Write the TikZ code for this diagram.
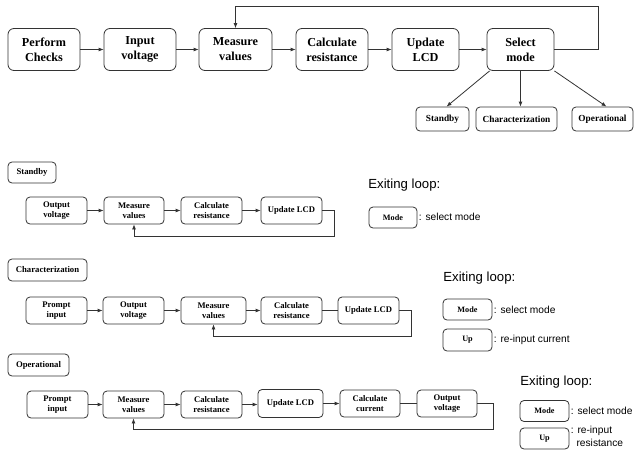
\documentclass[tikz,border=0pt]{standalone}
\usepackage{fontspec}
\setmainfont{Liberation Serif}
\newfontfamily\arialf{Liberation Sans}
\usetikzlibrary{arrows.meta}
\begin{document}
\begin{tikzpicture}[x=1pt,y=-1pt,
  line width=0.8pt,
  ln/.style={draw=black!80},
  arr/.style={draw=black!80,-{Latex[length=5pt,width=4pt]}},
  bigbox/.style={draw=black!80,rounded corners=6pt,align=center,inner sep=1pt,
    minimum height=42pt,font=\fontsize{12.2}{15}\selectfont\bfseries},
  subbox/.style={draw=black!80,rounded corners=4pt,align=center,inner sep=1pt,
    minimum height=24pt,font=\fontsize{9.3}{11}\selectfont\bfseries},
  smbox/.style={draw=black!80,rounded corners=4pt,align=center,inner sep=1pt,
    minimum height=27pt,font=\fontsize{8.6}{10.5}\selectfont\bfseries},
  labbox/.style={draw=black!80,rounded corners=4pt,align=center,inner sep=1pt,
    minimum height=21pt,font=\fontsize{8.7}{10.5}\selectfont\bfseries},
  keybox/.style={draw=black!80,rounded corners=4pt,align=center,inner sep=1pt,
    minimum width=49pt,minimum height=21pt,font=\fontsize{8.2}{10}\selectfont\bfseries},
  exittxt/.style={anchor=west,inner sep=0pt,font=\arialf\fontsize{13.2}{15}\selectfont},
  keytxt/.style={anchor=west,inner sep=0pt,align=left,font=\arialf\fontsize{10.2}{12.5}\selectfont}
]
\useasboundingbox (0,0) rectangle (634,458);

% ---------- top row ----------
\node[bigbox,minimum width=72pt] (pc) at (44,49.5) {Perform\\Checks};
\node[bigbox,minimum width=72pt] (iv) at (140,49.5) {Input\\voltage};
\node[bigbox,minimum width=73pt] (mv) at (235.5,49.5) {Measure\\values};
\node[bigbox,minimum width=72pt] (cr) at (332,49.5) {Calculate\\resistance};
\node[bigbox,minimum width=67pt] (ul) at (425.5,49.5) {Update\\LCD};
\node[bigbox,minimum width=67pt] (sm) at (520.5,49.5) {Select\\mode};

\node[subbox,minimum width=53pt] (sb) at (442.5,119) {Standby};
\node[subbox,minimum width=81pt] (ch) at (516.5,119) {Characterization};
\node[subbox,minimum width=61pt] (op) at (602.5,119) {Operational};

\draw[arr] (pc) -- (iv);
\draw[arr] (iv) -- (mv);
\draw[arr] (mv) -- (cr);
\draw[arr] (cr) -- (ul);
\draw[arr] (ul) -- (sm);
\coordinate (f1) at (598,6);
\draw[arr] (sm.east) -| (f1) -| (mv.north);
\draw[arr] ([xshift=3pt]sm.south west) -- ([xshift=4pt]sb.north);
\draw[arr] (sm.south) -- (sm.south |- ch.north);
\draw[arr] (sm.south east) -- ([xshift=4pt]op.north);

% ---------- Standby ----------
\node[labbox,minimum width=48pt] (lab1) at (32,172.5) {Standby};
\node[smbox,minimum width=61pt] (sov) at (56.5,210.5) {Output\\voltage};
\node[smbox,minimum width=60pt] (smv) at (134,210.5) {Measure\\values};
\node[smbox,minimum width=61pt] (scr) at (211.5,210.5) {Calculate\\resistance};
\node[smbox,minimum width=61pt] (sul) at (291.5,210.5) {Update LCD};
\draw[arr] (sov) -- (smv);
\draw[arr] (smv) -- (scr);
\draw[arr] (scr) -- (sul);
\coordinate (l1) at (334,236);
\draw[arr] (sul.east) -| (l1) -| (smv.south);

\node[exittxt] (ex1) at (368,185) {Exiting loop:};
\node[keybox,minimum width=48pt] (k1m) at (393,217.5) {Mode};
\node[keytxt] (t1m) at (418.5,217) {: select mode};

% ---------- Characterization ----------
\node[labbox,minimum width=79pt,minimum height=22pt] (lab2) at (47.5,270) {Characterization};
\node[smbox,minimum width=61pt] (cpi) at (56.5,310.5) {Prompt\\input};
\node[smbox,minimum width=61pt] (cov) at (133.5,310.5) {Output\\voltage};
\node[smbox,minimum width=65pt] (cmv) at (213.5,310.5) {Measure\\values};
\node[smbox,minimum width=61pt] (ccr) at (291.5,310.5) {Calculate\\resistance};
\node[smbox,minimum width=61pt] (cul) at (368.5,310.5) {Update LCD};
\draw[arr] (cpi) -- (cov);
\draw[arr] (cov) -- (cmv);
\draw[arr] (cmv) -- (ccr);
\draw[ln] (ccr) -- (cul);
\coordinate (l2) at (411,336);
\draw[arr] (cul.east) -| (l2) -| (cmv.south);

\node[exittxt] (ex2) at (443,278) {Exiting loop:};
\node[keybox] (k2m) at (467.5,309.5) {Mode};
\node[keybox,minimum height=22pt] (k2u) at (467.5,340) {Up};
\node[keytxt] (t2m) at (493.5,310) {: select mode};
\node[keytxt] (t2u) at (493.5,340) {: re-input current};

% ---------- Operational ----------
\node[labbox,minimum width=61pt,minimum height=22pt] (lab3) at (38.5,365) {Operational};
\node[smbox,minimum width=61pt] (opi) at (57.5,404.5) {Prompt\\input};
\node[smbox,minimum width=61pt] (omv) at (133.5,404.5) {Measure\\values};
\node[smbox,minimum width=61pt] (ocr) at (211.5,404.5) {Calculate\\resistance};
\node[smbox,minimum width=65pt,minimum height=28pt] (oul) at (290.5,403.5) {Update LCD};
\node[smbox,minimum width=60pt] (occ) at (370,403.5) {Calculate\\current};
\node[smbox,minimum width=60pt] (oov) at (447,403.5) {Output\\voltage};
\draw[arr] (opi) -- (omv);
\draw[arr] (omv) -- (ocr);
\draw[arr] (ocr) -- (ocr -| oul.west);
\draw[arr] (oul) -- (occ);
\draw[ln] (occ) -- (oov);
\coordinate (l3) at (493,429);
\draw[arr] (oov.east) -| (l3) -| (omv.south);

\node[exittxt] (ex3) at (520,382) {Exiting loop:};
\node[keybox] (k3m) at (544.5,411) {Mode};
\node[keybox] (k3u) at (544.5,438.5) {Up};
\node[keytxt] (t3m) at (570.5,411) {: select mode};
\node[keytxt,anchor=north west] (t3u) at (570.5,426) {: re-input\\\hphantom{:\ }resistance};
\end{tikzpicture}
\end{document}
